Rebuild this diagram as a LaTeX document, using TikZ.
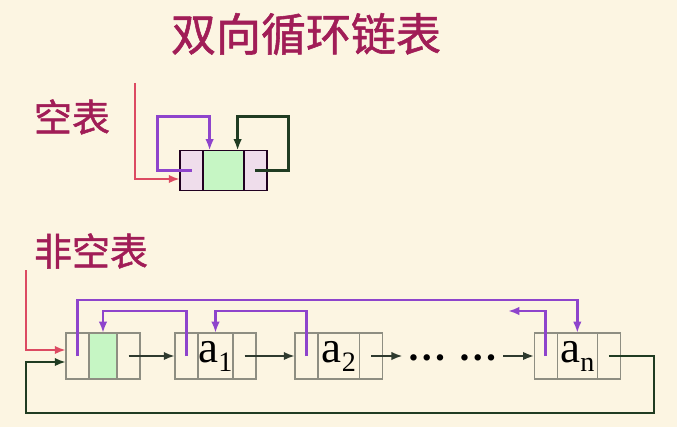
\documentclass[tikz,border=0pt]{standalone}
\usepackage{fontspec}
\setmainfont{Liberation Serif}
\newfontfamily\cjk[FakeBold=1.2]{Noto Sans CJK SC}
\usetikzlibrary{arrows.meta,positioning,calc}

\definecolor{paper}{HTML}{FCF5E2}
\definecolor{titlered}{HTML}{A11D57}
\definecolor{ptrred}{HTML}{DC4A62}
\definecolor{prevviolet}{HTML}{8E44CC}
\definecolor{loopgreen}{HTML}{203C22}
\definecolor{nextdark}{HTML}{2E3A2E}
\definecolor{datagreen}{HTML}{C6F6C4}
\definecolor{sidepink}{HTML}{EFDDEB}
\definecolor{cellgray}{HTML}{8E8E82}

\newcommand{\idx}[1]{\raisebox{-0.2em}{\fontsize{20}{20}\selectfont #1}}

\tikzset{
  cell/.style={draw=cellgray, line width=0.8pt, inner sep=0pt, outer sep=0pt,
    minimum height=1.15cm, font=\fontsize{32}{34}\selectfont},
  side/.style={cell, minimum width=0.575cm},
  ecell/.style={draw=black!75!violet, line width=1.4pt, inner sep=0pt, outer sep=0pt,
    minimum height=1cm},
  heading/.style={font=\cjk\fontsize{27}{30}\selectfont, text=titlered},
  nextarrow/.style={draw=nextdark, line width=1.8pt, -{Latex[length=8pt,width=6pt]}},
  prevarrow/.style={draw=prevviolet, line width=2.1pt, -{Latex[length=8pt,width=6pt]}},
  looparrow/.style={draw=loopgreen, line width=1.8pt, -{Latex[length=8pt,width=6pt]}},
  headarrow/.style={draw=ptrred, line width=1.7pt, -{Latex[length=8pt,width=6pt]}}
}

\begin{document}
\begin{tikzpicture}[x=0.025cm, y=-0.025cm]
  \fill[paper] (0,0) rectangle (677,427);

  % titles
  \node[heading, font=\cjk\fontsize{32}{34}\selectfont] (title) at (306,34) {双向循环链表};
  \node[heading] (empty) at (72,117) {空表};
  \node[heading] (full) at (91,251) {非空表};

  % empty list
  \node[ecell, minimum width=0.58cm, fill=sidepink, anchor=west] (el) at (180,170.5) {};
  \node[ecell, minimum width=1.02cm, fill=datagreen, right=0pt of el] (ed) {};
  \node[ecell, minimum width=0.57cm, fill=sidepink, right=0pt of ed] (er) {};
  \coordinate (eptr) at (135,83);

  \draw[headarrow] (eptr) |- ($(el.west)+(0,8.5)$);
  \draw[prevarrow, line width=1.8pt] (el.center) -| (157.7,116.7) -| ($(ed.north)+(-14,0)$);
  \draw[looparrow] (er.center) -| (288.3,116.7) -| ($(ed.north)+(14,0)$);

  % non-empty list
  \node[side, anchor=west] (hl) at (66,356) {};
  \node[cell, minimum width=0.7cm, fill=datagreen, right=0pt of hl] (hd) {};
  \node[side, right=0pt of hd] (hr) {};

  \node[side, anchor=west] (al) at (175,356) {};
  \node[cell, minimum width=0.875cm, right=0pt of al] (ad) {a\idx{1}};
  \node[side, right=0pt of ad] (ar) {};

  \node[side, anchor=west] (bl) at (295,356) {};
  \node[cell, minimum width=1.04cm, right=0pt of bl] (bd) {a\idx{2}};
  \node[side, right=0pt of bd] (br) {};

  \node[inner sep=0pt, minimum width=2.5cm, font=\bfseries\fontsize{28}{30}\selectfont] (dots) at (453,358) {…\hspace{0.3em}…};

  \node[side, anchor=west] (nl) at (534.3,356) {};
  \node[cell, minimum width=1cm, right=0pt of nl] (nd) {a\idx{n}};
  \node[side, right=0pt of nd] (nr) {};

  \coordinate (hptr) at (26,270);
  \coordinate (nprev) at (508,311);

  \draw[headarrow] (hptr) |- ($(hl.west)+(0,-6)$);
  \draw[nextarrow] (hr.center) -- (al.west);
  \draw[nextarrow] (ar.center) -- (bl.west);
  \draw[nextarrow] (br.center) -- (br.center -| dots.west);
  \draw[nextarrow] (nl.west -| dots.east) -- (nl.west);

  \draw[prevarrow] (hl.center) -- ++(0,-56) -| (nd.north);
  \draw[prevarrow] (al.center) -- ++(0,-45) -| (hd.north);
  \draw[prevarrow] (bl.center) -- ++(0,-45) -| (ad.north);
  \draw[prevarrow] (nl.center) |- (nprev);
  \draw[looparrow] (nr.center) -| (654,413) -| ($(hl.west)+(-40,6)$) -- ($(hl.west)+(0,6)$);
\end{tikzpicture}
\end{document}
